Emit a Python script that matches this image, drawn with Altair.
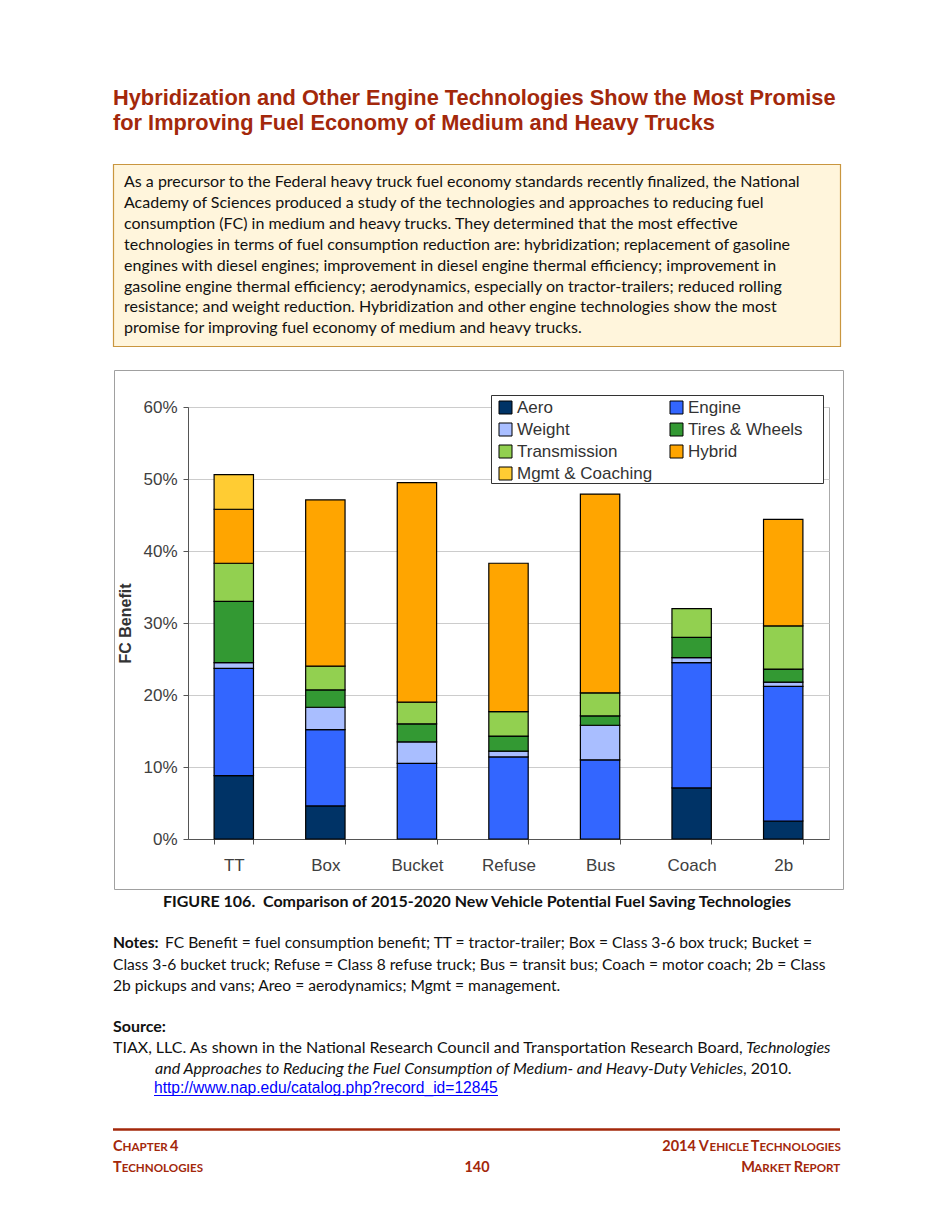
import altair as alt
import pandas as pd

# ---------------- data ----------------
categories = ["TT", "Box", "Bucket", "Refuse", "Bus", "Coach", "2b"]
technologies = ["Aero", "Engine", "Weight", "Tires & Wheels", "Transmission", "Hybrid", "Mgmt & Coaching"]
aero = [8.8, 4.6, 0.0, 0.0, 0.0, 7.1, 2.5]
engine = [14.9, 10.6, 10.5, 11.4, 11.0, 17.4, 18.7]
weight = [0.8, 3.1, 3.0, 0.8, 4.8, 0.7, 0.6]
tires = [8.5, 2.4, 2.5, 2.1, 1.3, 2.8, 1.8]
transmission = [5.3, 3.3, 3.0, 3.4, 3.2, 4.0, 6.0]
hybrid = [7.5, 23.1, 30.5, 20.6, 27.6, 0.0, 14.8]
mgmt = [4.8, 0.0, 0.0, 0.0, 0.0, 0.0, 0.0]
tech_colors = {"Aero": "#003366", "Engine": "#3366FF", "Weight": "#A9BEFF",
               "Tires & Wheels": "#339933", "Transmission": "#92D050",
               "Hybrid": "#FFA500", "Mgmt & Coaching": "#FFCC33"}
# legend is laid out column by column, so this order gives the reference's rows
legend_order = ["Aero", "Weight", "Transmission", "Mgmt & Coaching", "Engine", "Tires & Wheels", "Hybrid"]
y_ticks = [0.0, 0.1, 0.2, 0.3, 0.4, 0.5, 0.6]

series = [aero, engine, weight, tires, transmission, hybrid, mgmt]
rows = []
for ti, (tech, vals) in enumerate(zip(technologies, series)):
    for cat, v in zip(categories, vals):
        if v > 0:
            rows.append({"category": cat, "tech": tech, "value": v / 100.0, "order": ti})
df = pd.DataFrame(rows)

# ---------------- page geometry helpers ----------------
OX, OY = 188, 407  # page position of the plot origin
W, H = 641, 432

def one():
    return alt.Data(values=[{"k": 0}])

def txt(s, px, py, size=16, font="Lato", weight="normal", style="normal",
        color="#111111", align="left", baseline="middle"):
    return alt.Chart(one()).mark_text(
        text=s, align=align, baseline=baseline, font=font, fontSize=size,
        fontWeight=weight, fontStyle=style, color=color
    ).encode(x=alt.value(px - OX), y=alt.value(py - OY))

def rect(x1, y1, x2, y2, fill, stroke, sw=1.0, fo=1.0):
    return alt.Chart(one()).mark_rect(fill=fill, fillOpacity=fo, stroke=stroke,
                                      strokeWidth=sw).encode(
        x=alt.value(x1 - OX), x2=alt.value(x2 - OX),
        y=alt.value(y1 - OY), y2=alt.value(y2 - OY))

def hrule(x1, x2, py, color, sw=1.0):
    return alt.Chart(one()).mark_rule(color=color, strokeWidth=sw).encode(
        x=alt.value(x1 - OX), x2=alt.value(x2 - OX), y=alt.value(py - OY))

RED = "#A3280B"
layers = []

# title
layers.append(txt("Hybridization and Other Engine Technologies Show the Most Promise",
                  113, 98, size=21.8, font="Liberation Sans", weight="bold", color=RED))
layers.append(txt("for Improving Fuel Economy of Medium and Heavy Trucks",
                  113, 123, size=21.8, font="Liberation Sans", weight="bold", color=RED))

# highlight box
layers.append(rect(113.5, 164.5, 840.5, 346.5, "#FFF5DC", "#C9963F", 1.2))
box_lines = [
    "As a precursor to the Federal heavy truck fuel economy standards recently finalized, the National",
    "Academy of Sciences produced a study of the technologies and approaches to reducing fuel",
    "consumption (FC) in medium and heavy trucks. They determined that the most effective",
    "technologies in terms of fuel consumption reduction are: hybridization; replacement of gasoline",
    "engines with diesel engines; improvement in diesel engine thermal efficiency; improvement in",
    "gasoline engine thermal efficiency; aerodynamics, especially on tractor-trailers; reduced rolling",
    "resistance; and weight reduction. Hybridization and other engine technologies show the most",
    "promise for improving fuel economy of medium and heavy trucks.",
]
for i, line in enumerate(box_lines):
    layers.append(txt(line, 124, 182 + 20.9 * i, size=16))

# chart frame (transparent inside so the axes stay visible)
layers.append(rect(114.5, 370.5, 843.5, 889.5, "#FFFFFF", "#A0A0A0", 1.0, fo=0.0))

# bars
bars = alt.Chart(df).mark_bar(stroke="#000000", strokeWidth=1.2).encode(
    x=alt.X("category:N", sort=categories,
            scale=alt.Scale(paddingInner=0.57, paddingOuter=0.285),
            axis=alt.Axis(title=None, labelAngle=0, labelFont="Liberation Sans",
                          labelFontSize=17, labelColor="#404040", labelPadding=13,
                          tickBand="extent", tickSize=5, tickColor="#555555",
                          domainColor="#555555", grid=False)),
    y=alt.Y("value:Q", stack="zero",
            scale=alt.Scale(domain=[0, 0.6], nice=False),
            axis=alt.Axis(values=y_ticks, format=".0%", title="FC Benefit",
                          titleFont="Liberation Sans", titleFontSize=16,
                          titleFontWeight="bold", titleColor="#333333", titlePadding=9,
                          labelFont="Liberation Sans", labelFontSize=17,
                          labelColor="#404040", labelPadding=6, tickSize=5,
                          tickColor="#555555", domainColor="#555555",
                          gridColor="#CCCCCC", gridWidth=1)),
    color=alt.Color("tech:N", sort=legend_order,
                    scale=alt.Scale(domain=legend_order,
                                    range=[tech_colors[t] for t in legend_order]),
                    legend=alt.Legend(orient="none", legendX=497 - OX, legendY=399 - OY,
                                      columns=2, title=None, symbolType="square",
                                      symbolSize=169, symbolStrokeColor="#000000",
                                      symbolStrokeWidth=1, labelFont="Liberation Sans",
                                      labelFontSize=17, labelColor="#333333",
                                      labelOffset=3, rowPadding=4, columnPadding=15,
                                      padding=0)),
    order=alt.Order("order:Q"),
)

layers.append(bars)
# legend box (behind the legend, above the grid)
layers.append(rect(491.5, 395.5, 823.5, 483.5, "#FFFFFF", "#333333", 1.0))

# caption, notes, source
layers.append(txt("FIGURE 106.\u00a0 Comparison of 2015-2020 New Vehicle Potential Fuel Saving Technologies",
                  477, 902, size=16, weight="bold", align="center"))
layers.append(txt("Notes:", 113, 943, size=15.6, weight="bold"))
layers.append(txt("FC Benefit = fuel consumption benefit; TT = tractor-trailer; Box = Class 3-6 box truck; Bucket =",
                  165, 943, size=15.6))
layers.append(txt("Class 3-6 bucket truck; Refuse = Class 8 refuse truck; Bus = transit bus; Coach = motor coach; 2b = Class",
                  113, 964.5, size=15.6))
layers.append(txt("2b pickups and vans; Areo = aerodynamics; Mgmt = management.", 113, 985.5, size=15.6))
layers.append(txt("Source:", 113, 1027, size=16, weight="bold"))
layers.append(txt("TIAX, LLC. As shown in the National Research Council and Transportation Research Board,",
                  113, 1048, size=16))
layers.append(txt("Technologies", 746, 1048, size=16, style="italic"))
layers.append(txt("and Approaches to Reducing the Fuel Consumption of Medium- and Heavy-Duty Vehicles",
                  155, 1069, size=16, style="italic"))
layers.append(txt(", 2010.", 743, 1069, size=16))
layers.append(txt("http://www.nap.edu/catalog.php?record_id=12845", 154, 1088, size=15.6,
                  font="Liberation Sans", color="#0000FF"))
layers.append(hrule(154, 498, 1095.5, "#0000FF", 1))

# footer (small caps built from big and small runs)
layers.append(hrule(113, 840, 1129.5, RED, 2.5))
BIG, SMALL = 14.5, 11.6
EM = {"A": .69, "C": .66, "E": .56, "H": .74, "I": .29, "K": .68, "L": .50, "M": .90,
      "N": .76, "O": .80, "P": .61, "R": .63, "S": .53, "T": .60, "V": .69, "G": .74,
      " ": .25, "0": .58, "1": .58, "2": .58, "4": .58}

def run_w(s, size):
    return sum(EM.get(ch, .6) for ch in s) * size

def smallcaps(runs, px, py, align="left"):
    total = sum(run_w(s, BIG if big else SMALL) for s, big in runs)
    x = px if align == "left" else px - total
    out = []
    for s, big in runs:
        size = BIG if big else SMALL
        if s.strip():
            out.append(txt(s, x, py, size=size, weight="bold", color=RED, baseline="alphabetic"))
        x += run_w(s, size)
    return out

layers += smallcaps([("C", True), ("HAPTER", False), (" ", False), ("4", True)], 113, 1151)
layers += smallcaps([("T", True), ("ECHNOLOGIES", False)], 113, 1172)
layers += smallcaps([("2014 V", True), ("EHICLE", False), (" ", False), ("T", True),
                     ("ECHNOLOGIES", False)], 840, 1151, align="right")
layers += smallcaps([("M", True), ("ARKET", False), (" ", False), ("R", True),
                     ("EPORT", False)], 840, 1172, align="right")
layers.append(txt("140", 477, 1172, size=14.4, weight="bold", color=RED, align="center",
                  baseline="alphabetic"))

chart = alt.layer(*layers).properties(
    width=W, height=H,
    autosize=alt.AutoSizeParams(type="none"),
    padding={"left": OX - 8, "top": OY - 8, "right": 100, "bottom": 370},
    background="#FFFFFF",
).configure_view(stroke="#AAAAAA", strokeWidth=1)

chart.save("out.html", embed_options={"renderer": "svg", "actions": False})
